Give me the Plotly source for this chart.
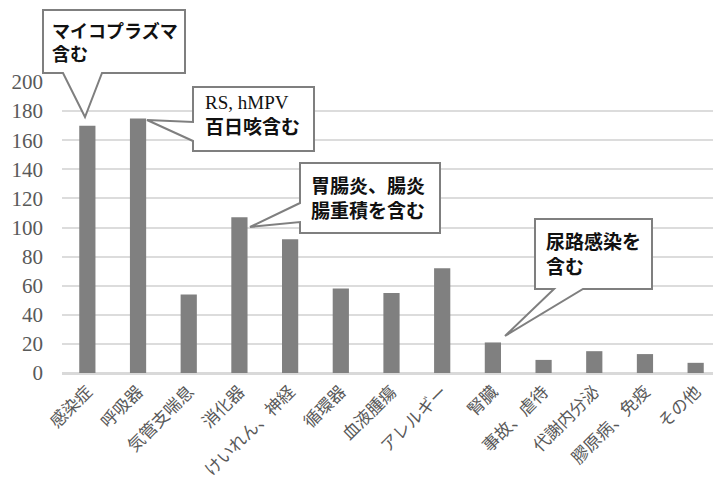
import plotly.graph_objects as go

categories = ["感染症", "呼吸器", "気管支喘息", "消化器", "けいれん、神経", "循環器", "血液腫瘍",
              "アレルギー", "腎臓", "事故、虐待", "代謝内分泌", "膠原病、免疫", "その他"]
values = [170, 175, 54, 107, 92, 58, 55, 72, 21, 9, 15, 13, 7]
y_ticks = [0, 20, 40, 60, 80, 100, 120, 140, 160, 180, 200]

# page has an 8px body margin; compensate so the plot lands where the reference has it
OFF = 8
W, H = 721 - OFF, 477 - OFF
L, R, T, B = 62 - OFF, 0, 82 - OFF, 104
PW, PH = W - L - R, H - T - B

def px(x):  # page pixel -> paper
    return (x - OFF - L) / PW

def py(y):
    return (H - B - (y - OFF)) / PH

fig = go.Figure(go.Bar(x=categories, y=values, marker_color="#808080",
                       marker_line_width=0))

border = "#7f7f7f"
callouts = [
    dict(box=(43, 10, 185, 73), side="bottom", w=(63, 102), tip=(85, 117),
         text="<b>マイコプラズマ<br>含む</b>", tx=50, ty=15, size=18),
    dict(box=(193, 87, 314, 151), side="left", w=(122, 141), tip=(147, 120),
         text="<span style='font-family:Liberation Serif;font-weight:normal'>RS, hMPV</span><br><b>百日咳含む</b>",
         tx=203, ty=90, size=19),
    dict(box=(300, 163, 440, 233), side="left", w=(203, 222), tip=(250, 227),
         text="<b>胃腸炎、腸炎<br>腸重積を含む</b>", tx=309, ty=169, size=19),
    dict(box=(535, 219, 652, 289), side="bottom", w=(554, 583), tip=(505, 336),
         text="<b>尿路感染を<br>含む</b>", tx=544, ty=225, size=19),
]

shapes = []
annotations = []
for c in callouts:
    x0, y0, x1, y1 = c["box"]
    tx, ty = c["tip"]
    a, b = c["w"]
    if c["side"] == "bottom":
        pts = [(x0, y0), (x1, y0), (x1, y1), (b, y1), (tx, ty), (a, y1), (x0, y1)]
    else:
        pts = [(x0, y0), (x1, y0), (x1, y1), (x0, y1), (x0, b), (tx, ty), (x0, a)]
    path = "M " + " L ".join(f"{px(p[0]):.5f},{py(p[1]):.5f}" for p in pts) + " Z"
    shapes.append(dict(type="path", xref="paper", yref="paper", path=path,
                       fillcolor="white", line=dict(color=border, width=2), layer="above"))
    annotations.append(dict(xref="paper", yref="paper", x=px(c["tx"]), y=py(c["ty"]),
                            xanchor="left", yanchor="top", align="left", showarrow=False,
                            text=c["text"],
                            font=dict(family="Noto Sans CJK JP", size=c["size"], color="#111111")))

fig.update_layout(
    width=W, height=H,
    margin=dict(l=L, r=R, t=T, b=B, pad=0),
    paper_bgcolor="white", plot_bgcolor="white",
    showlegend=False,
    bargap=0.68,
    shapes=shapes,
    annotations=annotations,
    xaxis=dict(tickangle=-45, showgrid=False, showline=True, linecolor="#d9d9d9", linewidth=2,
               tickfont=dict(family="Noto Sans CJK JP", size=17, color="#595959"),
               ticks="", automargin=False),
    yaxis=dict(range=[0, 200], tickvals=y_ticks, showgrid=True, gridcolor="#dcdcdc", gridwidth=1.5,
               zeroline=True, zerolinecolor="#d9d9d9", zerolinewidth=2,
               tickfont=dict(family="Liberation Serif", size=21, color="#595959"),
               ticks="", ticklabelstandoff=18, automargin=False),
)

fig.write_html("out.html")
